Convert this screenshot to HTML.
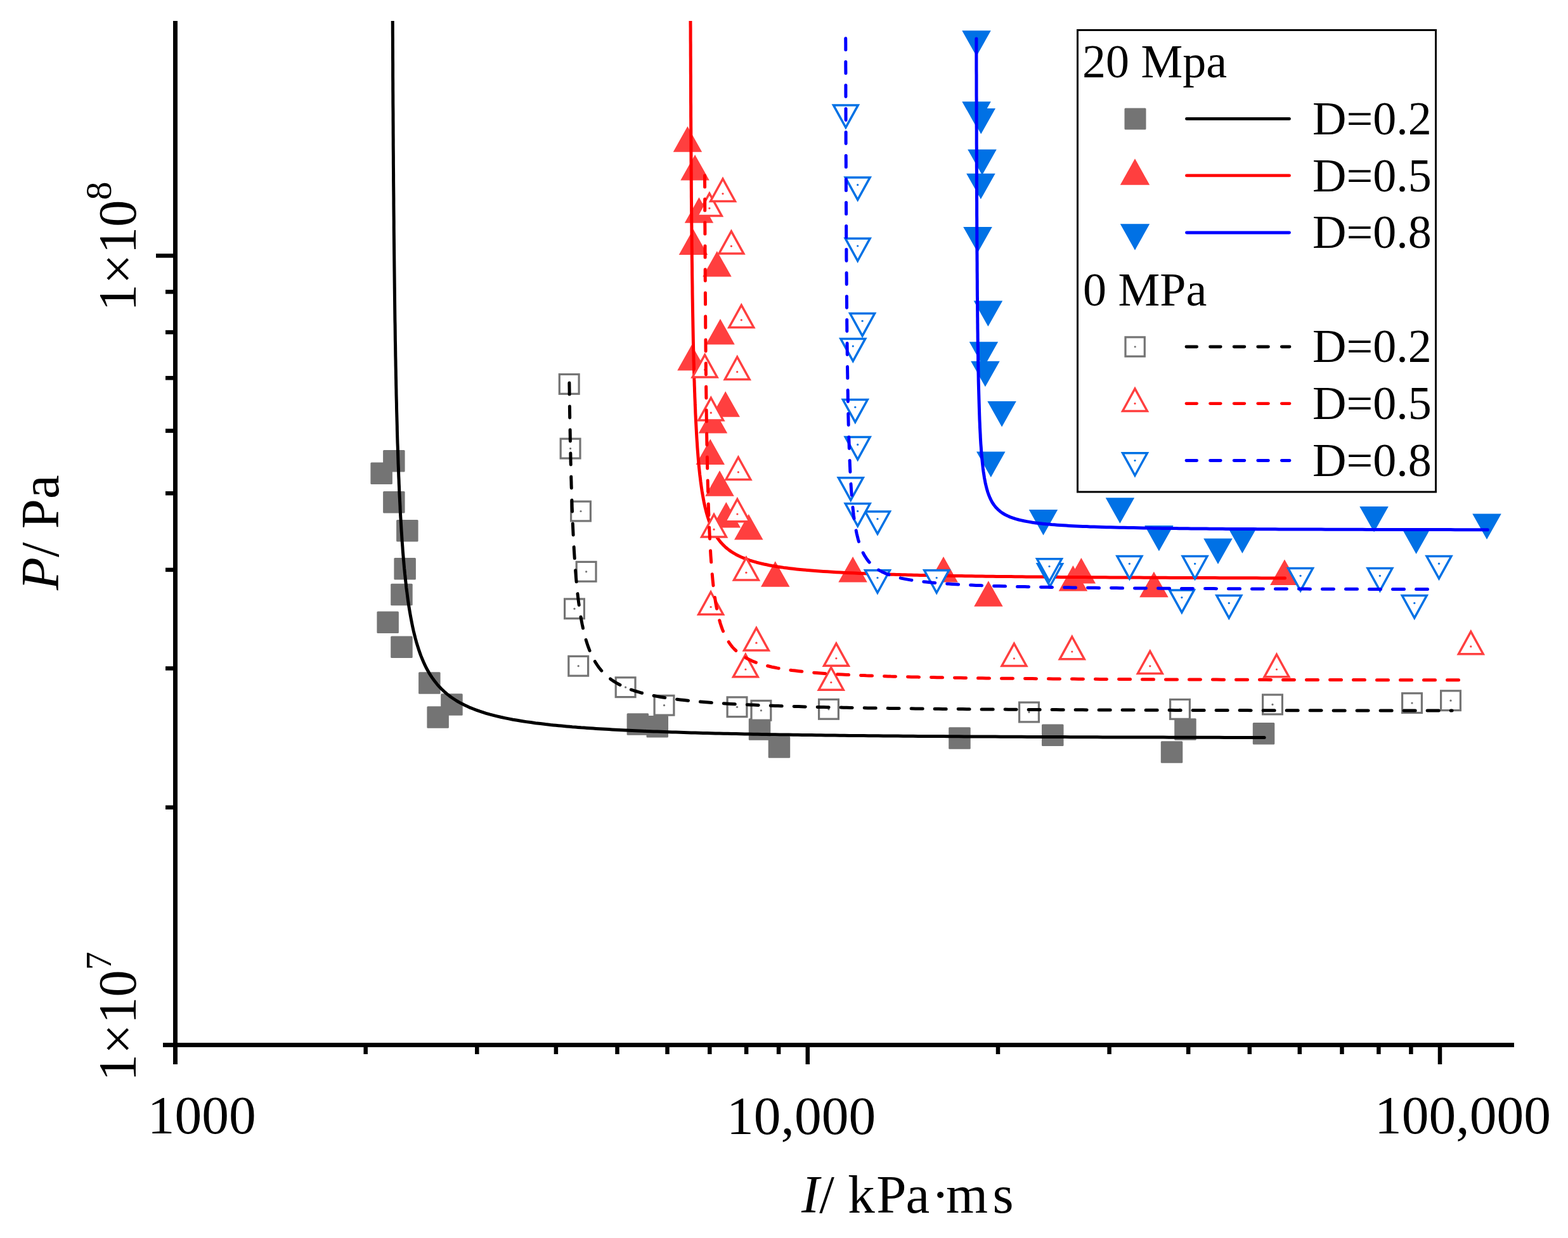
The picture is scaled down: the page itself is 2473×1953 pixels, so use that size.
<!DOCTYPE html>
<html><head><meta charset="utf-8"><title>P-I diagram</title>
<style>html,body{margin:0;padding:0;background:#fff;}svg{display:block;}</style></head>
<body>
<svg width="2473" height="1953" viewBox="0 0 2473 1953">
<rect width="2473" height="1953" fill="#fff"/>
<defs><clipPath id="pa"><rect x="0" y="33" width="2473" height="1700"/></clipPath></defs>
<g id="data" clip-path="url(#pa)">
<rect x="604.1" y="710.0" width="34.5" height="34.5" rx="1.5" fill="#747474"/>
<rect x="584.4" y="729.6" width="34.5" height="34.5" rx="1.5" fill="#747474"/>
<rect x="604.1" y="775.1" width="34.5" height="34.5" rx="1.5" fill="#747474"/>
<rect x="625.1" y="820.0" width="34.5" height="34.5" rx="1.5" fill="#747474"/>
<rect x="621.4" y="880.0" width="34.5" height="34.5" rx="1.5" fill="#747474"/>
<rect x="616.2" y="920.8" width="34.5" height="34.5" rx="1.5" fill="#747474"/>
<rect x="594.4" y="964.5" width="34.5" height="34.5" rx="1.5" fill="#747474"/>
<rect x="616.2" y="1003.6" width="34.5" height="34.5" rx="1.5" fill="#747474"/>
<rect x="660.1" y="1060.2" width="34.5" height="34.5" rx="1.5" fill="#747474"/>
<rect x="695.2" y="1094.2" width="34.5" height="34.5" rx="1.5" fill="#747474"/>
<rect x="673.4" y="1114.2" width="34.5" height="34.5" rx="1.5" fill="#747474"/>
<rect x="988.6" y="1125.2" width="34.5" height="34.5" rx="1.5" fill="#747474"/>
<rect x="1019.5" y="1129.0" width="34.5" height="34.5" rx="1.5" fill="#747474"/>
<rect x="1180.8" y="1133.2" width="34.5" height="34.5" rx="1.5" fill="#747474"/>
<rect x="1211.7" y="1161.2" width="34.5" height="34.5" rx="1.5" fill="#747474"/>
<rect x="1496.2" y="1147.2" width="34.5" height="34.5" rx="1.5" fill="#747474"/>
<rect x="1643.0" y="1142.5" width="34.5" height="34.5" rx="1.5" fill="#747474"/>
<rect x="1852.2" y="1133.2" width="34.5" height="34.5" rx="1.5" fill="#747474"/>
<rect x="1830.8" y="1169.2" width="34.5" height="34.5" rx="1.5" fill="#747474"/>
<rect x="1975.8" y="1140.0" width="34.5" height="34.5" rx="1.5" fill="#747474"/>
<polygon points="1084.4,199.3 1107.2,239.8 1061.7,239.8" fill="#ff3f3f"/>
<polygon points="1096.1,244.0 1118.8,284.5 1073.3,284.5" fill="#ff3f3f"/>
<polygon points="1102.5,311.3 1125.2,351.8 1079.8,351.8" fill="#ff3f3f"/>
<polygon points="1093.4,361.5 1116.2,402.0 1070.7,402.0" fill="#ff3f3f"/>
<polygon points="1130.9,396.0 1153.7,436.5 1108.2,436.5" fill="#ff3f3f"/>
<polygon points="1136.0,503.0 1158.8,543.5 1113.2,543.5" fill="#ff3f3f"/>
<polygon points="1090.9,544.0 1113.7,584.5 1068.2,584.5" fill="#ff3f3f"/>
<polygon points="1144.2,617.2 1167.0,657.7 1121.5,657.7" fill="#ff3f3f"/>
<polygon points="1124.4,643.0 1147.2,683.5 1101.7,683.5" fill="#ff3f3f"/>
<polygon points="1120.2,692.6 1143.0,733.1 1097.5,733.1" fill="#ff3f3f"/>
<polygon points="1135.0,742.3 1157.8,782.8 1112.2,782.8" fill="#ff3f3f"/>
<polygon points="1145.3,791.9 1168.0,832.4 1122.5,832.4" fill="#ff3f3f"/>
<polygon points="1180.8,810.9 1203.5,851.4 1158.0,851.4" fill="#ff3f3f"/>
<polygon points="1222.7,885.2 1245.5,925.7 1200.0,925.7" fill="#ff3f3f"/>
<polygon points="1345.1,877.9 1367.8,918.4 1322.3,918.4" fill="#ff3f3f"/>
<polygon points="1488.0,877.9 1510.8,918.4 1465.2,918.4" fill="#ff3f3f"/>
<polygon points="1558.9,916.3 1581.7,956.8 1536.2,956.8" fill="#ff3f3f"/>
<polygon points="1692.4,892.1 1715.2,932.6 1669.7,932.6" fill="#ff3f3f"/>
<polygon points="1705.3,879.9 1728.0,920.4 1682.5,920.4" fill="#ff3f3f"/>
<polygon points="1819.9,901.8 1842.7,942.3 1797.2,942.3" fill="#ff3f3f"/>
<polygon points="2026.0,882.5 2048.8,923.0 2003.2,923.0" fill="#ff3f3f"/>
<polygon points="1540.1,88.8 1562.8,48.3 1517.3,48.3" fill="#0071e5"/>
<polygon points="1540.1,200.7 1562.8,160.2 1517.3,160.2" fill="#0071e5"/>
<polygon points="1547.2,211.4 1570.0,170.9 1524.5,170.9" fill="#0071e5"/>
<polygon points="1549.0,276.2 1571.8,235.7 1526.2,235.7" fill="#0071e5"/>
<polygon points="1546.9,314.2 1569.7,273.7 1524.2,273.7" fill="#0071e5"/>
<polygon points="1542.0,398.5 1564.8,358.0 1519.2,358.0" fill="#0071e5"/>
<polygon points="1558.4,515.1 1581.2,474.6 1535.7,474.6" fill="#0071e5"/>
<polygon points="1551.4,579.8 1574.2,539.3 1528.7,539.3" fill="#0071e5"/>
<polygon points="1553.9,610.2 1576.7,569.7 1531.2,569.7" fill="#0071e5"/>
<polygon points="1580.1,673.4 1602.8,632.9 1557.3,632.9" fill="#0071e5"/>
<polygon points="1562.8,753.1 1585.5,712.6 1540.0,712.6" fill="#0071e5"/>
<polygon points="1645.5,844.5 1668.2,804.0 1622.8,804.0" fill="#0071e5"/>
<polygon points="1766.4,825.7 1789.2,785.2 1743.7,785.2" fill="#0071e5"/>
<polygon points="1827.9,869.4 1850.7,828.9 1805.2,828.9" fill="#0071e5"/>
<polygon points="1921.0,890.0 1943.8,849.5 1898.2,849.5" fill="#0071e5"/>
<polygon points="1959.4,873.1 1982.2,832.6 1936.7,832.6" fill="#0071e5"/>
<polygon points="2167.1,839.6 2189.8,799.1 2144.3,799.1" fill="#0071e5"/>
<polygon points="2233.6,874.0 2256.3,833.5 2210.8,833.5" fill="#0071e5"/>
<polygon points="2345.0,851.1 2367.8,810.6 2322.2,810.6" fill="#0071e5"/>
<path d="M619.2,20.0 L619.2,30.2 L619.3,40.4 L619.3,50.6 L619.4,60.7 L619.4,70.8 L619.5,80.9 L619.5,91.0 L619.6,101.0 L619.6,111.0 L619.6,120.9 L619.7,130.9 L619.7,140.8 L619.8,150.6 L619.8,160.5 L619.9,170.3 L620.0,180.0 L620.0,189.8 L620.1,199.5 L620.1,209.1 L620.2,218.7 L620.2,228.3 L620.3,237.9 L620.4,247.4 L620.4,256.9 L620.5,266.3 L620.6,275.7 L620.6,285.1 L620.7,294.4 L620.8,303.7 L620.9,313.0 L620.9,322.2 L621.0,331.3 L621.1,340.5 L621.2,349.5 L621.2,358.6 L621.3,367.6 L621.4,376.5 L621.5,385.4 L621.6,394.3 L621.7,403.1 L621.8,411.8 L621.9,420.6 L622.0,429.2 L622.1,437.8 L622.2,446.4 L622.3,454.9 L622.4,463.4 L622.5,471.8 L622.6,480.2 L622.7,488.5 L622.8,496.8 L622.9,505.0 L623.1,513.2 L623.2,521.3 L623.3,529.4 L623.4,537.4 L623.6,545.4 L623.7,553.3 L623.8,561.1 L624.0,568.9 L624.1,576.7 L624.3,584.3 L624.4,592.0 L624.6,599.5 L624.7,607.0 L624.9,614.5 L625.0,621.9 L625.2,629.2 L625.4,636.5 L625.5,643.7 L625.7,650.9 L625.9,658.0 L626.1,665.0 L626.3,672.0 L626.4,678.9 L626.6,685.8 L626.8,692.6 L627.0,699.3 L627.3,706.0 L627.5,712.6 L627.7,719.2 L627.9,725.7 L628.1,732.1 L628.4,738.5 L628.6,744.8 L628.8,751.1 L629.1,757.2 L629.3,763.4 L629.6,769.4 L629.8,775.4 L630.1,781.4 L630.4,787.2 L630.7,793.0 L631.0,798.8 L631.2,804.5 L631.5,810.1 L631.8,815.6 L632.2,821.1 L632.5,826.6 L632.8,831.9 L633.1,837.3 L633.5,842.5 L633.8,847.7 L634.1,852.8 L634.5,857.9 L634.9,862.9 L635.2,867.8 L635.6,872.7 L636.0,877.5 L636.4,882.3 L636.8,887.0 L637.2,891.6 L637.6,896.2 L638.1,900.7 L638.5,905.2 L639.0,909.6 L639.4,913.9 L639.9,918.2 L640.4,922.4 L640.8,926.6 L641.3,930.7 L641.9,934.7 L642.4,938.7 L643.4,946.6 L644.5,954.2 L645.7,961.5 L646.9,968.7 L648.2,975.7 L649.5,982.4 L650.8,988.9 L652.2,995.3 L653.7,1001.4 L655.2,1007.4 L656.8,1013.2 L658.5,1018.7 L660.2,1024.1 L662.0,1029.4 L663.8,1034.4 L665.8,1039.3 L667.8,1044.0 L669.9,1048.6 L672.0,1053.0 L674.3,1057.2 L676.6,1061.3 L679.1,1065.3 L681.6,1069.1 L684.2,1072.8 L686.9,1076.3 L689.7,1079.8 L692.6,1083.1 L695.7,1086.3 L698.8,1089.3 L702.0,1092.3 L705.4,1095.1 L708.9,1097.9 L712.5,1100.5 L716.3,1103.0 L720.1,1105.5 L724.1,1107.8 L728.3,1110.1 L732.6,1112.3 L737.0,1114.3 L741.5,1116.4 L746.3,1118.3 L751.1,1120.1 L756.2,1121.9 L761.4,1123.6 L766.7,1125.3 L772.2,1126.9 L777.9,1128.4 L783.8,1129.9 L789.8,1131.3 L796.0,1132.6 L802.4,1133.9 L809.0,1135.2 L815.7,1136.3 L822.7,1137.5 L829.8,1138.6 L837.1,1139.6 L844.6,1140.7 L852.4,1141.6 L860.3,1142.6 L864.3,1143.0 L868.4,1143.5 L872.5,1143.9 L876.6,1144.3 L880.9,1144.7 L885.1,1145.1 L889.5,1145.5 L893.8,1145.9 L898.3,1146.3 L902.7,1146.7 L907.3,1147.0 L911.8,1147.4 L916.4,1147.8 L921.1,1148.1 L925.8,1148.4 L930.6,1148.8 L935.4,1149.1 L940.3,1149.4 L945.2,1149.7 L950.2,1150.0 L955.2,1150.3 L960.3,1150.6 L965.4,1150.9 L970.6,1151.2 L975.8,1151.5 L981.1,1151.7 L986.4,1152.0 L991.8,1152.2 L997.2,1152.5 L1002.7,1152.7 L1008.2,1153.0 L1013.7,1153.2 L1019.3,1153.5 L1025.0,1153.7 L1030.7,1153.9 L1036.5,1154.1 L1042.3,1154.3 L1048.1,1154.5 L1054.0,1154.7 L1060.0,1154.9 L1065.9,1155.1 L1072.0,1155.3 L1078.1,1155.5 L1084.2,1155.7 L1090.3,1155.9 L1096.6,1156.1 L1102.8,1156.2 L1109.1,1156.4 L1115.5,1156.6 L1121.9,1156.7 L1128.3,1156.9 L1134.8,1157.0 L1141.3,1157.2 L1147.8,1157.3 L1154.4,1157.5 L1161.1,1157.6 L1167.8,1157.8 L1174.5,1157.9 L1181.3,1158.0 L1188.1,1158.2 L1194.9,1158.3 L1201.8,1158.4 L1208.7,1158.5 L1215.7,1158.7 L1222.7,1158.8 L1229.7,1158.9 L1236.8,1159.0 L1243.9,1159.1 L1251.0,1159.2 L1258.2,1159.3 L1265.4,1159.4 L1272.7,1159.5 L1280.0,1159.6 L1287.3,1159.7 L1294.6,1159.8 L1302.0,1159.9 L1309.4,1160.0 L1316.9,1160.1 L1324.4,1160.2 L1331.9,1160.3 L1339.4,1160.4 L1347.0,1160.4 L1354.6,1160.5 L1362.2,1160.6 L1369.9,1160.7 L1377.6,1160.7 L1385.3,1160.8 L1393.1,1160.9 L1400.8,1161.0 L1408.6,1161.0 L1416.5,1161.1 L1424.3,1161.2 L1432.2,1161.2 L1440.1,1161.3 L1448.1,1161.4 L1456.0,1161.4 L1464.0,1161.5 L1472.0,1161.5 L1480.1,1161.6 L1488.1,1161.6 L1496.2,1161.7 L1504.3,1161.8 L1512.4,1161.8 L1520.6,1161.9 L1528.8,1161.9 L1537.0,1162.0 L1545.2,1162.0 L1553.4,1162.0 L1561.7,1162.1 L1569.9,1162.1 L1578.2,1162.2 L1586.6,1162.2 L1594.9,1162.3 L1603.2,1162.3 L1611.6,1162.3 L1620.0,1162.4 L1628.4,1162.4 L1636.8,1162.5 L1645.3,1162.5 L1653.7,1162.5 L1662.2,1162.6 L1670.7,1162.6 L1679.2,1162.6 L1687.7,1162.7 L1696.3,1162.7 L1704.8,1162.7 L1713.4,1162.8 L1722.0,1162.8 L1730.6,1162.8 L1739.2,1162.9 L1747.8,1162.9 L1756.5,1162.9 L1765.1,1162.9 L1773.8,1163.0 L1782.5,1163.0 L1791.2,1163.0 L1799.9,1163.0 L1808.6,1163.1 L1817.3,1163.1 L1826.1,1163.1 L1834.8,1163.1 L1843.6,1163.2 L1852.3,1163.2 L1861.1,1163.2 L1869.9,1163.2 L1878.7,1163.3 L1887.6,1163.3 L1896.4,1163.3 L1905.2,1163.3 L1914.1,1163.3 L1922.9,1163.3 L1931.8,1163.4 L1940.7,1163.4 L1949.5,1163.4 L1958.4,1163.4 L1967.3,1163.4 L1976.3,1163.5 L1985.2,1163.5 L1994.1,1163.5" fill="none" stroke="#000" stroke-width="5" stroke-linecap="round" stroke-linejoin="round"/>
<path d="M1089.0,20.0 L1089.0,28.5 L1089.0,37.0 L1089.1,45.4 L1089.1,53.8 L1089.1,62.2 L1089.2,70.5 L1089.2,78.8 L1089.2,87.1 L1089.3,95.3 L1089.3,103.5 L1089.3,111.6 L1089.4,119.8 L1089.4,127.9 L1089.4,135.9 L1089.5,143.9 L1089.5,151.9 L1089.5,159.8 L1089.6,167.7 L1089.6,175.6 L1089.6,183.4 L1089.7,191.2 L1089.7,198.9 L1089.8,206.6 L1089.8,214.3 L1089.9,221.9 L1089.9,229.5 L1089.9,237.0 L1090.0,244.5 L1090.0,252.0 L1090.1,259.4 L1090.1,266.7 L1090.2,274.1 L1090.2,281.4 L1090.3,288.6 L1090.3,295.8 L1090.4,302.9 L1090.4,310.0 L1090.5,317.1 L1090.6,324.1 L1090.6,331.1 L1090.7,338.0 L1090.7,344.9 L1090.8,351.7 L1090.9,358.5 L1090.9,365.2 L1091.0,371.9 L1091.1,378.5 L1091.1,385.1 L1091.2,391.6 L1091.3,398.1 L1091.3,404.6 L1091.4,411.0 L1091.5,417.3 L1091.6,423.6 L1091.6,429.9 L1091.7,436.1 L1091.8,442.2 L1091.9,448.3 L1092.0,454.4 L1092.0,460.4 L1092.1,466.3 L1092.2,472.2 L1092.3,478.0 L1092.4,483.8 L1092.5,489.6 L1092.6,495.3 L1092.7,500.9 L1092.8,506.5 L1092.9,512.1 L1093.0,517.5 L1093.1,523.0 L1093.2,528.4 L1093.3,533.7 L1093.4,539.0 L1093.5,544.2 L1093.6,549.4 L1093.8,554.5 L1093.9,559.6 L1094.0,564.6 L1094.1,569.6 L1094.3,574.5 L1094.4,579.4 L1094.5,584.2 L1094.7,589.0 L1094.8,593.7 L1094.9,598.4 L1095.1,603.0 L1095.2,607.6 L1095.4,612.1 L1095.5,616.6 L1095.7,621.0 L1095.8,625.4 L1096.0,629.7 L1096.2,634.0 L1096.3,638.2 L1096.5,642.4 L1096.7,646.5 L1096.8,650.6 L1097.0,654.6 L1097.4,662.5 L1097.8,670.2 L1098.2,677.7 L1098.6,685.1 L1099.0,692.2 L1099.5,699.2 L1099.9,706.0 L1100.4,712.6 L1100.9,719.0 L1101.4,725.3 L1102.0,731.4 L1102.5,737.3 L1103.1,743.1 L1103.7,748.7 L1104.4,754.1 L1105.0,759.4 L1105.7,764.5 L1106.4,769.5 L1107.1,774.3 L1107.9,779.0 L1108.7,783.6 L1109.5,788.0 L1110.3,792.3 L1111.2,796.4 L1112.1,800.4 L1113.1,804.3 L1114.5,809.9 L1116.1,815.3 L1117.8,820.4 L1119.5,825.2 L1121.4,829.8 L1123.3,834.2 L1125.4,838.4 L1127.6,842.4 L1129.8,846.1 L1132.3,849.7 L1134.8,853.1 L1137.5,856.3 L1140.3,859.4 L1143.3,862.3 L1146.4,865.0 L1149.7,867.6 L1153.2,870.1 L1156.8,872.4 L1160.7,874.7 L1164.7,876.8 L1168.9,878.8 L1173.4,880.6 L1178.0,882.4 L1182.9,884.1 L1188.0,885.7 L1193.4,887.2 L1199.0,888.6 L1204.9,890.0 L1208.9,890.8 L1213.1,891.7 L1217.4,892.5 L1221.9,893.2 L1226.4,894.0 L1231.1,894.7 L1235.9,895.4 L1240.9,896.0 L1246.0,896.7 L1251.2,897.3 L1256.6,897.9 L1262.1,898.4 L1267.8,899.0 L1273.6,899.5 L1279.6,900.0 L1285.7,900.5 L1292.0,901.0 L1298.4,901.4 L1305.0,901.8 L1311.7,902.3 L1318.6,902.7 L1325.7,903.0 L1332.9,903.4 L1340.3,903.8 L1347.8,904.1 L1355.5,904.5 L1363.4,904.8 L1371.4,905.1 L1375.5,905.2 L1379.6,905.4 L1383.8,905.5 L1388.0,905.7 L1392.2,905.8 L1396.5,905.9 L1400.8,906.1 L1405.2,906.2 L1409.6,906.3 L1414.0,906.5 L1418.5,906.6 L1423.0,906.7 L1427.6,906.8 L1432.2,906.9 L1436.9,907.0 L1441.6,907.2 L1446.3,907.3 L1451.1,907.4 L1455.9,907.5 L1460.7,907.6 L1465.6,907.7 L1470.6,907.8 L1475.5,907.9 L1480.5,908.0 L1485.6,908.1 L1490.7,908.2 L1495.8,908.3 L1501.0,908.4 L1506.2,908.4 L1511.4,908.5 L1516.7,908.6 L1522.1,908.7 L1527.4,908.8 L1532.8,908.8 L1538.3,908.9 L1543.7,909.0 L1549.2,909.1 L1554.8,909.2 L1560.4,909.2 L1566.0,909.3 L1571.7,909.4 L1577.4,909.4 L1583.1,909.5 L1588.9,909.6 L1594.7,909.6 L1600.5,909.7 L1606.4,909.8 L1612.3,909.8 L1618.2,909.9 L1624.2,909.9 L1630.2,910.0 L1636.3,910.0 L1642.3,910.1 L1648.4,910.1 L1654.6,910.2 L1660.8,910.3 L1667.0,910.3 L1673.2,910.4 L1679.5,910.4 L1685.8,910.5 L1692.1,910.5 L1698.5,910.5 L1704.9,910.6 L1711.3,910.6 L1717.7,910.7 L1724.2,910.7 L1730.7,910.8 L1737.3,910.8 L1743.8,910.8 L1750.4,910.9 L1757.1,910.9 L1763.7,911.0 L1770.4,911.0 L1777.1,911.0 L1783.8,911.1 L1790.6,911.1 L1797.4,911.1 L1804.2,911.2 L1811.0,911.2 L1817.9,911.2 L1824.8,911.3 L1831.7,911.3 L1838.6,911.3 L1845.6,911.4 L1852.6,911.4 L1859.6,911.4 L1866.6,911.4 L1873.7,911.5 L1880.7,911.5 L1887.8,911.5 L1895.0,911.6 L1902.1,911.6 L1909.3,911.6 L1916.4,911.6 L1923.6,911.7 L1930.9,911.7 L1938.1,911.7 L1945.4,911.7 L1952.7,911.7 L1960.0,911.8 L1967.3,911.8 L1974.6,911.8 L1982.0,911.8 L1989.4,911.9 L1996.7,911.9 L2004.2,911.9 L2011.6,911.9 L2019.0,911.9 L2026.5,911.9" fill="none" stroke="#f00" stroke-width="5" stroke-linecap="round" stroke-linejoin="round"/>
<path d="M1539.9,61.1 L1539.9,69.4 L1539.9,77.7 L1539.9,86.0 L1539.9,94.2 L1539.9,102.4 L1539.9,110.5 L1540.0,118.6 L1540.0,126.6 L1540.0,134.6 L1540.0,142.6 L1540.0,150.5 L1540.1,158.4 L1540.1,166.2 L1540.1,174.0 L1540.1,181.7 L1540.1,189.4 L1540.1,197.0 L1540.2,204.6 L1540.2,212.1 L1540.2,219.6 L1540.2,227.1 L1540.3,234.5 L1540.3,241.8 L1540.3,249.1 L1540.3,256.4 L1540.3,263.6 L1540.4,270.7 L1540.4,277.8 L1540.4,284.8 L1540.4,291.8 L1540.5,298.8 L1540.5,305.7 L1540.5,312.5 L1540.6,319.3 L1540.6,326.0 L1540.6,332.7 L1540.6,339.3 L1540.7,345.9 L1540.7,352.4 L1540.7,358.9 L1540.8,365.3 L1540.8,371.6 L1540.8,377.9 L1540.9,384.2 L1540.9,390.4 L1540.9,396.5 L1541.0,402.6 L1541.0,408.6 L1541.1,414.6 L1541.1,420.5 L1541.1,426.4 L1541.2,432.2 L1541.2,437.9 L1541.3,443.6 L1541.3,449.3 L1541.3,454.8 L1541.4,460.4 L1541.4,465.8 L1541.5,471.3 L1541.5,476.6 L1541.6,481.9 L1541.6,487.2 L1541.7,492.4 L1541.7,497.5 L1541.8,502.6 L1541.8,507.6 L1541.9,512.6 L1541.9,517.5 L1542.0,522.4 L1542.1,527.2 L1542.1,531.9 L1542.2,536.6 L1542.2,541.3 L1542.3,545.8 L1542.4,550.4 L1542.4,554.9 L1542.5,559.3 L1542.6,563.7 L1542.6,568.0 L1542.7,572.2 L1542.8,576.5 L1542.8,580.6 L1542.9,584.7 L1543.0,588.8 L1543.1,592.8 L1543.2,600.6 L1543.4,608.3 L1543.6,615.8 L1543.8,623.0 L1544.0,630.1 L1544.2,636.9 L1544.4,643.6 L1544.6,650.1 L1544.8,656.4 L1545.0,662.5 L1545.3,668.5 L1545.5,674.2 L1545.8,679.8 L1546.1,685.3 L1546.3,690.5 L1546.6,695.6 L1546.9,700.6 L1547.3,705.4 L1547.6,710.0 L1547.9,714.5 L1548.3,718.9 L1548.7,723.1 L1549.1,727.2 L1549.7,733.0 L1550.3,738.6 L1551.0,743.9 L1551.8,749.0 L1552.5,753.7 L1553.4,758.3 L1554.2,762.6 L1555.2,766.7 L1556.5,771.8 L1557.9,776.5 L1559.5,781.0 L1561.2,785.1 L1563.0,788.9 L1564.9,792.5 L1567.6,796.5 L1570.5,800.2 L1573.8,803.6 L1577.3,806.7 L1581.2,809.5 L1585.4,812.0 L1589.1,813.8 L1593.1,815.6 L1597.4,817.1 L1602.0,818.6 L1606.9,820.0 L1610.8,820.9 L1614.9,821.8 L1619.3,822.6 L1623.8,823.4 L1628.6,824.2 L1633.7,824.9 L1639.0,825.6 L1644.6,826.2 L1650.4,826.8 L1654.4,827.1 L1658.6,827.5 L1662.9,827.8 L1667.4,828.2 L1671.9,828.5 L1676.6,828.8 L1681.5,829.1 L1686.5,829.4 L1691.6,829.7 L1696.9,829.9 L1702.4,830.2 L1708.0,830.4 L1713.7,830.6 L1719.6,830.9 L1725.7,831.1 L1731.9,831.3 L1738.3,831.5 L1744.9,831.7 L1751.6,831.8 L1758.6,832.0 L1765.6,832.2 L1772.9,832.3 L1780.3,832.5 L1787.9,832.6 L1795.7,832.8 L1803.6,832.9 L1807.6,833.0 L1811.7,833.1 L1815.9,833.1 L1820.0,833.2 L1824.2,833.2 L1828.5,833.3 L1832.8,833.4 L1837.2,833.4 L1841.6,833.5 L1846.0,833.5 L1850.5,833.6 L1855.0,833.6 L1859.6,833.7 L1864.2,833.7 L1868.9,833.8 L1873.6,833.8 L1878.3,833.9 L1883.1,833.9 L1888.0,834.0 L1892.9,834.0 L1897.8,834.1 L1902.8,834.1 L1907.8,834.2 L1912.8,834.2 L1917.9,834.2 L1923.1,834.3 L1928.3,834.3 L1933.5,834.4 L1938.8,834.4 L1944.1,834.4 L1949.5,834.5 L1954.9,834.5 L1960.3,834.5 L1965.8,834.6 L1971.3,834.6 L1976.9,834.6 L1982.5,834.7 L1988.2,834.7 L1993.9,834.7 L1999.6,834.8 L2005.4,834.8 L2011.2,834.8 L2017.1,834.9 L2023.0,834.9 L2028.9,834.9 L2034.9,834.9 L2040.9,835.0 L2046.9,835.0 L2053.0,835.0 L2059.1,835.0 L2065.3,835.1 L2071.5,835.1 L2077.7,835.1 L2084.0,835.1 L2090.3,835.2 L2096.7,835.2 L2103.1,835.2 L2109.5,835.2 L2115.9,835.2 L2122.4,835.3 L2128.9,835.3 L2135.5,835.3 L2142.1,835.3 L2148.7,835.3 L2155.4,835.4 L2162.1,835.4 L2168.8,835.4 L2175.5,835.4 L2182.3,835.4 L2189.1,835.4 L2196.0,835.5 L2202.9,835.5 L2209.8,835.5 L2216.7,835.5 L2223.7,835.5 L2230.7,835.5 L2237.7,835.5 L2244.7,835.6 L2251.8,835.6 L2258.9,835.6 L2266.1,835.6 L2273.2,835.6 L2280.4,835.6 L2287.6,835.6 L2294.9,835.7 L2302.2,835.7 L2309.5,835.7 L2316.8,835.7 L2324.1,835.7 L2331.5,835.7 L2338.9,835.7 L2346.3,835.7" fill="none" stroke="#00f" stroke-width="5" stroke-linecap="round" stroke-linejoin="round"/>
<rect x="882.3" y="590.5" width="30.8" height="30.8" fill="#fff" stroke="#747474" stroke-width="3.2"/><circle cx="897.7" cy="605.9" r="1.6" fill="#747474"/>
<rect x="884.2" y="692.2" width="30.8" height="30.8" fill="#fff" stroke="#747474" stroke-width="3.2"/><circle cx="899.6" cy="707.6" r="1.6" fill="#747474"/>
<rect x="900.6" y="791.1" width="30.8" height="30.8" fill="#fff" stroke="#747474" stroke-width="3.2"/><circle cx="916.0" cy="806.5" r="1.6" fill="#747474"/>
<rect x="909.2" y="886.4" width="30.8" height="30.8" fill="#fff" stroke="#747474" stroke-width="3.2"/><circle cx="924.6" cy="901.8" r="1.6" fill="#747474"/>
<rect x="890.6" y="944.9" width="30.8" height="30.8" fill="#fff" stroke="#747474" stroke-width="3.2"/><circle cx="906.0" cy="960.3" r="1.6" fill="#747474"/>
<rect x="896.8" y="1035.3" width="30.8" height="30.8" fill="#fff" stroke="#747474" stroke-width="3.2"/><circle cx="912.2" cy="1050.7" r="1.6" fill="#747474"/>
<rect x="971.2" y="1068.8" width="30.8" height="30.8" fill="#fff" stroke="#747474" stroke-width="3.2"/><circle cx="986.6" cy="1084.2" r="1.6" fill="#747474"/>
<rect x="1032.1" y="1097.3" width="30.8" height="30.8" fill="#fff" stroke="#747474" stroke-width="3.2"/><circle cx="1047.5" cy="1112.7" r="1.6" fill="#747474"/>
<rect x="1147.1" y="1099.9" width="30.8" height="30.8" fill="#fff" stroke="#747474" stroke-width="3.2"/><circle cx="1162.5" cy="1115.3" r="1.6" fill="#747474"/>
<rect x="1185.0" y="1105.4" width="30.8" height="30.8" fill="#fff" stroke="#747474" stroke-width="3.2"/><circle cx="1200.4" cy="1120.8" r="1.6" fill="#747474"/>
<rect x="1291.6" y="1103.4" width="30.8" height="30.8" fill="#fff" stroke="#747474" stroke-width="3.2"/><circle cx="1307.0" cy="1118.8" r="1.6" fill="#747474"/>
<rect x="1607.6" y="1108.1" width="30.8" height="30.8" fill="#fff" stroke="#747474" stroke-width="3.2"/><circle cx="1623.0" cy="1123.5" r="1.6" fill="#747474"/>
<rect x="1845.6" y="1103.5" width="30.8" height="30.8" fill="#fff" stroke="#747474" stroke-width="3.2"/><circle cx="1861.0" cy="1118.9" r="1.6" fill="#747474"/>
<rect x="1991.6" y="1096.0" width="30.8" height="30.8" fill="#fff" stroke="#747474" stroke-width="3.2"/><circle cx="2007.0" cy="1111.4" r="1.6" fill="#747474"/>
<rect x="2211.6" y="1093.7" width="30.8" height="30.8" fill="#fff" stroke="#747474" stroke-width="3.2"/><circle cx="2227.0" cy="1109.1" r="1.6" fill="#747474"/>
<rect x="2272.6" y="1089.8" width="30.8" height="30.8" fill="#fff" stroke="#747474" stroke-width="3.2"/><circle cx="2288.0" cy="1105.2" r="1.6" fill="#747474"/>
<polygon points="1118.9,305.1 1138.3,340.4 1099.5,340.4" fill="#fff" stroke="#ff3f3f" stroke-width="3.5" stroke-linejoin="miter"/><circle cx="1118.9" cy="328.6" r="1.6" fill="#ff3f3f"/>
<polygon points="1140.0,282.1 1159.4,317.4 1120.6,317.4" fill="#fff" stroke="#ff3f3f" stroke-width="3.5" stroke-linejoin="miter"/><circle cx="1140.0" cy="305.6" r="1.6" fill="#ff3f3f"/>
<polygon points="1153.4,364.8 1172.8,400.1 1134.0,400.1" fill="#fff" stroke="#ff3f3f" stroke-width="3.5" stroke-linejoin="miter"/><circle cx="1153.4" cy="388.3" r="1.6" fill="#ff3f3f"/>
<polygon points="1169.3,481.3 1188.7,516.5 1149.9,516.5" fill="#fff" stroke="#ff3f3f" stroke-width="3.5" stroke-linejoin="miter"/><circle cx="1169.3" cy="504.8" r="1.6" fill="#ff3f3f"/>
<polygon points="1111.6,559.8 1131.0,595.0 1092.2,595.0" fill="#fff" stroke="#ff3f3f" stroke-width="3.5" stroke-linejoin="miter"/><circle cx="1111.6" cy="583.3" r="1.6" fill="#ff3f3f"/>
<polygon points="1162.7,563.2 1182.1,598.5 1143.3,598.5" fill="#fff" stroke="#ff3f3f" stroke-width="3.5" stroke-linejoin="miter"/><circle cx="1162.7" cy="586.7" r="1.6" fill="#ff3f3f"/>
<polygon points="1121.3,627.7 1140.7,663.0 1101.9,663.0" fill="#fff" stroke="#ff3f3f" stroke-width="3.5" stroke-linejoin="miter"/><circle cx="1121.3" cy="651.2" r="1.6" fill="#ff3f3f"/>
<polygon points="1164.4,721.3 1183.8,756.5 1145.0,756.5" fill="#fff" stroke="#ff3f3f" stroke-width="3.5" stroke-linejoin="miter"/><circle cx="1164.4" cy="744.8" r="1.6" fill="#ff3f3f"/>
<polygon points="1162.9,787.5 1182.3,822.8 1143.5,822.8" fill="#fff" stroke="#ff3f3f" stroke-width="3.5" stroke-linejoin="miter"/><circle cx="1162.9" cy="811.0" r="1.6" fill="#ff3f3f"/>
<polygon points="1126.0,811.7 1145.4,847.0 1106.6,847.0" fill="#fff" stroke="#ff3f3f" stroke-width="3.5" stroke-linejoin="miter"/><circle cx="1126.0" cy="835.2" r="1.6" fill="#ff3f3f"/>
<polygon points="1176.9,879.8 1196.3,915.0 1157.5,915.0" fill="#fff" stroke="#ff3f3f" stroke-width="3.5" stroke-linejoin="miter"/><circle cx="1176.9" cy="903.3" r="1.6" fill="#ff3f3f"/>
<polygon points="1121.1,934.0 1140.5,969.2 1101.7,969.2" fill="#fff" stroke="#ff3f3f" stroke-width="3.5" stroke-linejoin="miter"/><circle cx="1121.1" cy="957.5" r="1.6" fill="#ff3f3f"/>
<polygon points="1192.9,990.7 1212.3,1026.0 1173.5,1026.0" fill="#fff" stroke="#ff3f3f" stroke-width="3.5" stroke-linejoin="miter"/><circle cx="1192.9" cy="1014.2" r="1.6" fill="#ff3f3f"/>
<polygon points="1175.9,1032.5 1195.3,1067.8 1156.5,1067.8" fill="#fff" stroke="#ff3f3f" stroke-width="3.5" stroke-linejoin="miter"/><circle cx="1175.9" cy="1056.0" r="1.6" fill="#ff3f3f"/>
<polygon points="1318.9,1015.1 1338.3,1050.3 1299.5,1050.3" fill="#fff" stroke="#ff3f3f" stroke-width="3.5" stroke-linejoin="miter"/><circle cx="1318.9" cy="1038.6" r="1.6" fill="#ff3f3f"/>
<polygon points="1310.8,1053.0 1330.2,1088.2 1291.4,1088.2" fill="#fff" stroke="#ff3f3f" stroke-width="3.5" stroke-linejoin="miter"/><circle cx="1310.8" cy="1076.5" r="1.6" fill="#ff3f3f"/>
<polygon points="1599.4,1015.3 1618.8,1050.5 1580.0,1050.5" fill="#fff" stroke="#ff3f3f" stroke-width="3.5" stroke-linejoin="miter"/><circle cx="1599.4" cy="1038.8" r="1.6" fill="#ff3f3f"/>
<polygon points="1690.8,1004.5 1710.2,1039.8 1671.4,1039.8" fill="#fff" stroke="#ff3f3f" stroke-width="3.5" stroke-linejoin="miter"/><circle cx="1690.8" cy="1028.0" r="1.6" fill="#ff3f3f"/>
<polygon points="1813.8,1027.3 1833.2,1062.5 1794.4,1062.5" fill="#fff" stroke="#ff3f3f" stroke-width="3.5" stroke-linejoin="miter"/><circle cx="1813.8" cy="1050.8" r="1.6" fill="#ff3f3f"/>
<polygon points="2013.5,1032.5 2032.9,1067.8 1994.1,1067.8" fill="#fff" stroke="#ff3f3f" stroke-width="3.5" stroke-linejoin="miter"/><circle cx="2013.5" cy="1056.0" r="1.6" fill="#ff3f3f"/>
<polygon points="2319.8,996.4 2339.2,1031.7 2300.4,1031.7" fill="#fff" stroke="#ff3f3f" stroke-width="3.5" stroke-linejoin="miter"/><circle cx="2319.8" cy="1019.9" r="1.6" fill="#ff3f3f"/>
<polygon points="1333.9,201.2 1353.3,165.9 1314.5,165.9" fill="#fff" stroke="#0071e5" stroke-width="3.5" stroke-linejoin="miter"/><circle cx="1333.9" cy="177.7" r="1.6" fill="#0071e5"/>
<polygon points="1352.7,315.2 1372.1,279.9 1333.3,279.9" fill="#fff" stroke="#0071e5" stroke-width="3.5" stroke-linejoin="miter"/><circle cx="1352.7" cy="291.7" r="1.6" fill="#0071e5"/>
<polygon points="1352.7,411.5 1372.1,376.2 1333.3,376.2" fill="#fff" stroke="#0071e5" stroke-width="3.5" stroke-linejoin="miter"/><circle cx="1352.7" cy="388.0" r="1.6" fill="#0071e5"/>
<polygon points="1360.1,529.8 1379.5,494.6 1340.7,494.6" fill="#fff" stroke="#0071e5" stroke-width="3.5" stroke-linejoin="miter"/><circle cx="1360.1" cy="506.3" r="1.6" fill="#0071e5"/>
<polygon points="1345.3,569.6 1364.7,534.4 1325.9,534.4" fill="#fff" stroke="#0071e5" stroke-width="3.5" stroke-linejoin="miter"/><circle cx="1345.3" cy="546.1" r="1.6" fill="#0071e5"/>
<polygon points="1348.8,665.8 1368.2,630.5 1329.4,630.5" fill="#fff" stroke="#0071e5" stroke-width="3.5" stroke-linejoin="miter"/><circle cx="1348.8" cy="642.3" r="1.6" fill="#0071e5"/>
<polygon points="1352.7,724.9 1372.1,689.6 1333.3,689.6" fill="#fff" stroke="#0071e5" stroke-width="3.5" stroke-linejoin="miter"/><circle cx="1352.7" cy="701.4" r="1.6" fill="#0071e5"/>
<polygon points="1341.8,789.0 1361.2,753.8 1322.4,753.8" fill="#fff" stroke="#0071e5" stroke-width="3.5" stroke-linejoin="miter"/><circle cx="1341.8" cy="765.5" r="1.6" fill="#0071e5"/>
<polygon points="1384.0,842.2 1403.4,807.0 1364.6,807.0" fill="#fff" stroke="#0071e5" stroke-width="3.5" stroke-linejoin="miter"/><circle cx="1384.0" cy="818.7" r="1.6" fill="#0071e5"/>
<polygon points="1352.7,829.9 1372.1,794.6 1333.3,794.6" fill="#fff" stroke="#0071e5" stroke-width="3.5" stroke-linejoin="miter"/><circle cx="1352.7" cy="806.4" r="1.6" fill="#0071e5"/>
<polygon points="1384.0,935.0 1403.4,899.8 1364.6,899.8" fill="#fff" stroke="#0071e5" stroke-width="3.5" stroke-linejoin="miter"/><circle cx="1384.0" cy="911.5" r="1.6" fill="#0071e5"/>
<polygon points="1477.2,935.0 1496.6,899.8 1457.8,899.8" fill="#fff" stroke="#0071e5" stroke-width="3.5" stroke-linejoin="miter"/><circle cx="1477.2" cy="911.5" r="1.6" fill="#0071e5"/>
<polygon points="1656.0,925.0 1675.4,889.8 1636.6,889.8" fill="#fff" stroke="#0071e5" stroke-width="3.5" stroke-linejoin="miter"/><circle cx="1656.0" cy="901.5" r="1.6" fill="#0071e5"/>
<polygon points="1655.0,917.0 1674.4,881.8 1635.6,881.8" fill="#fff" stroke="#0071e5" stroke-width="3.5" stroke-linejoin="miter"/><circle cx="1655.0" cy="893.5" r="1.6" fill="#0071e5"/>
<polygon points="1781.4,912.8 1800.8,877.5 1762.0,877.5" fill="#fff" stroke="#0071e5" stroke-width="3.5" stroke-linejoin="miter"/><circle cx="1781.4" cy="889.3" r="1.6" fill="#0071e5"/>
<polygon points="1863.9,966.1 1883.3,930.9 1844.5,930.9" fill="#fff" stroke="#0071e5" stroke-width="3.5" stroke-linejoin="miter"/><circle cx="1863.9" cy="942.6" r="1.6" fill="#0071e5"/>
<polygon points="1884.6,912.8 1904.0,877.5 1865.2,877.5" fill="#fff" stroke="#0071e5" stroke-width="3.5" stroke-linejoin="miter"/><circle cx="1884.6" cy="889.3" r="1.6" fill="#0071e5"/>
<polygon points="1938.3,974.9 1957.7,939.6 1918.9,939.6" fill="#fff" stroke="#0071e5" stroke-width="3.5" stroke-linejoin="miter"/><circle cx="1938.3" cy="951.4" r="1.6" fill="#0071e5"/>
<polygon points="2051.1,931.8 2070.5,896.5 2031.7,896.5" fill="#fff" stroke="#0071e5" stroke-width="3.5" stroke-linejoin="miter"/><circle cx="2051.1" cy="908.3" r="1.6" fill="#0071e5"/>
<polygon points="2176.4,931.8 2195.8,896.5 2157.0,896.5" fill="#fff" stroke="#0071e5" stroke-width="3.5" stroke-linejoin="miter"/><circle cx="2176.4" cy="908.3" r="1.6" fill="#0071e5"/>
<polygon points="2230.8,974.9 2250.2,939.6 2211.4,939.6" fill="#fff" stroke="#0071e5" stroke-width="3.5" stroke-linejoin="miter"/><circle cx="2230.8" cy="951.4" r="1.6" fill="#0071e5"/>
<polygon points="2269.5,912.7 2288.9,877.5 2250.1,877.5" fill="#fff" stroke="#0071e5" stroke-width="3.5" stroke-linejoin="miter"/><circle cx="2269.5" cy="889.2" r="1.6" fill="#0071e5"/>
<path d="M897.9,604.0 L898.0,610.4 L898.1,616.8 L898.1,623.1 L898.2,629.4 L898.3,635.6 L898.4,641.8 L898.5,647.9 L898.6,654.0 L898.7,660.0 L898.8,666.0 L898.9,671.9 L899.1,677.8 L899.2,683.6 L899.3,689.4 L899.4,695.1 L899.5,700.8 L899.6,706.4 L899.8,712.0 L899.9,717.5 L900.0,723.0 L900.1,728.4 L900.3,733.8 L900.4,739.1 L900.5,744.4 L900.7,749.6 L900.8,754.8 L901.0,759.9 L901.1,765.0 L901.3,770.0 L901.4,775.0 L901.6,779.9 L901.7,784.7 L901.9,789.6 L902.1,794.3 L902.2,799.1 L902.4,803.7 L902.6,808.3 L902.8,812.9 L902.9,817.4 L903.1,821.9 L903.3,826.3 L903.5,830.7 L903.7,835.0 L903.9,839.3 L904.1,843.5 L904.3,847.7 L904.5,851.8 L904.8,855.9 L905.0,859.9 L905.4,867.9 L905.9,875.6 L906.4,883.1 L906.9,890.5 L907.4,897.7 L908.0,904.7 L908.5,911.5 L909.1,918.1 L909.7,924.6 L910.4,930.9 L911.0,937.0 L911.7,943.0 L912.4,948.8 L913.2,954.4 L913.9,959.9 L914.7,965.2 L915.5,970.4 L916.4,975.4 L917.3,980.3 L918.2,985.0 L919.2,989.6 L920.1,994.1 L921.2,998.4 L922.2,1002.6 L923.3,1006.6 L924.5,1010.6 L926.3,1016.2 L928.2,1021.7 L930.2,1026.8 L932.3,1031.7 L934.5,1036.4 L936.8,1040.9 L939.3,1045.1 L941.9,1049.1 L944.6,1053.0 L947.5,1056.6 L950.5,1060.1 L953.7,1063.3 L957.1,1066.5 L960.6,1069.4 L964.3,1072.2 L968.2,1074.9 L972.3,1077.4 L976.6,1079.8 L981.1,1082.0 L985.8,1084.2 L990.7,1086.2 L995.9,1088.2 L1001.3,1090.0 L1007.0,1091.7 L1010.9,1092.8 L1014.9,1093.9 L1019.1,1094.9 L1023.4,1095.9 L1027.8,1096.8 L1032.3,1097.7 L1037.0,1098.6 L1041.8,1099.5 L1046.7,1100.3 L1051.8,1101.1 L1057.0,1101.8 L1062.3,1102.6 L1067.8,1103.3 L1073.4,1103.9 L1079.2,1104.6 L1085.1,1105.2 L1091.2,1105.8 L1097.4,1106.4 L1103.7,1107.0 L1110.3,1107.5 L1116.9,1108.1 L1123.8,1108.6 L1130.8,1109.0 L1137.9,1109.5 L1145.2,1110.0 L1152.7,1110.4 L1160.3,1110.8 L1168.1,1111.2 L1176.0,1111.6 L1180.1,1111.8 L1184.1,1112.0 L1188.2,1112.1 L1192.4,1112.3 L1196.6,1112.5 L1200.8,1112.7 L1205.1,1112.8 L1209.4,1113.0 L1213.8,1113.2 L1218.2,1113.3 L1222.6,1113.5 L1227.1,1113.6 L1231.6,1113.8 L1236.2,1113.9 L1240.8,1114.1 L1245.4,1114.2 L1250.1,1114.3 L1254.8,1114.5 L1259.6,1114.6 L1264.4,1114.7 L1269.2,1114.9 L1274.1,1115.0 L1279.0,1115.1 L1283.9,1115.2 L1288.9,1115.4 L1294.0,1115.5 L1299.0,1115.6 L1304.2,1115.7 L1309.3,1115.8 L1314.5,1115.9 L1319.7,1116.0 L1325.0,1116.1 L1330.3,1116.2 L1335.6,1116.3 L1341.0,1116.4 L1346.4,1116.5 L1351.9,1116.6 L1357.3,1116.7 L1362.9,1116.8 L1368.4,1116.9 L1374.0,1117.0 L1379.6,1117.1 L1385.3,1117.1 L1391.0,1117.2 L1396.7,1117.3 L1402.5,1117.4 L1408.3,1117.5 L1414.2,1117.5 L1420.0,1117.6 L1425.9,1117.7 L1431.9,1117.8 L1437.9,1117.8 L1443.9,1117.9 L1449.9,1118.0 L1456.0,1118.0 L1462.1,1118.1 L1468.2,1118.2 L1474.4,1118.2 L1480.6,1118.3 L1486.8,1118.4 L1493.1,1118.4 L1499.4,1118.5 L1505.7,1118.5 L1512.0,1118.6 L1518.4,1118.6 L1524.8,1118.7 L1531.3,1118.8 L1537.7,1118.8 L1544.2,1118.9 L1550.8,1118.9 L1557.3,1119.0 L1563.9,1119.0 L1570.5,1119.0 L1577.1,1119.1 L1583.8,1119.1 L1590.5,1119.2 L1597.2,1119.2 L1603.9,1119.3 L1610.7,1119.3 L1617.5,1119.4 L1624.3,1119.4 L1631.1,1119.4 L1638.0,1119.5 L1644.9,1119.5 L1651.8,1119.6 L1658.7,1119.6 L1665.6,1119.6 L1672.6,1119.7 L1679.6,1119.7 L1686.6,1119.7 L1693.7,1119.8 L1700.7,1119.8 L1707.8,1119.8 L1714.9,1119.9 L1722.1,1119.9 L1729.2,1119.9 L1736.4,1119.9 L1743.6,1120.0 L1750.8,1120.0 L1758.0,1120.0 L1765.2,1120.1 L1772.5,1120.1 L1779.8,1120.1 L1787.1,1120.1 L1794.4,1120.2 L1801.7,1120.2 L1809.1,1120.2 L1816.5,1120.2 L1823.8,1120.3 L1831.2,1120.3 L1838.7,1120.3 L1846.1,1120.3 L1853.6,1120.4 L1861.0,1120.4 L1868.5,1120.4 L1876.0,1120.4 L1883.5,1120.4 L1891.0,1120.5 L1898.6,1120.5 L1906.1,1120.5 L1913.7,1120.5 L1921.3,1120.5 L1928.9,1120.6 L1936.5,1120.6 L1944.1,1120.6 L1951.8,1120.6 L1959.4,1120.6 L1967.1,1120.6 L1974.8,1120.7 L1982.5,1120.7 L1990.2,1120.7 L1997.9,1120.7 L2005.6,1120.7 L2013.3,1120.7 L2021.1,1120.7 L2028.8,1120.8 L2036.6,1120.8 L2044.4,1120.8 L2052.2,1120.8 L2060.0,1120.8 L2067.8,1120.8 L2075.6,1120.8 L2083.4,1120.8 L2091.3,1120.9 L2099.1,1120.9 L2107.0,1120.9 L2114.9,1120.9 L2122.7,1120.9 L2130.6,1120.9 L2138.5,1120.9 L2146.4,1120.9 L2154.3,1120.9 L2162.2,1121.0 L2170.2,1121.0 L2178.1,1121.0 L2186.1,1121.0 L2194.0,1121.0 L2202.0,1121.0 L2209.9,1121.0 L2217.9,1121.0 L2225.9,1121.0 L2233.9,1121.0 L2241.9,1121.0 L2249.9,1121.1 L2257.9,1121.1 L2265.9,1121.1 L2273.9,1121.1 L2282.0,1121.1 L2290.0,1121.1" fill="none" stroke="#000" stroke-width="5" stroke-linecap="round" stroke-linejoin="round" stroke-dasharray="18 19"/>
<path d="M1111.5,277.0 L1111.5,285.7 L1111.6,294.4 L1111.6,303.1 L1111.6,311.7 L1111.7,320.3 L1111.7,328.8 L1111.7,337.3 L1111.8,345.7 L1111.8,354.1 L1111.9,362.5 L1111.9,370.8 L1111.9,379.0 L1112.0,387.2 L1112.0,395.4 L1112.1,403.5 L1112.1,411.5 L1112.1,419.5 L1112.2,427.5 L1112.2,435.4 L1112.3,443.2 L1112.3,451.0 L1112.4,458.8 L1112.4,466.5 L1112.5,474.1 L1112.5,481.7 L1112.6,489.2 L1112.6,496.7 L1112.7,504.2 L1112.7,511.5 L1112.8,518.9 L1112.8,526.1 L1112.9,533.3 L1113.0,540.5 L1113.0,547.6 L1113.1,554.6 L1113.1,561.6 L1113.2,568.5 L1113.3,575.4 L1113.3,582.2 L1113.4,589.0 L1113.5,595.7 L1113.6,602.3 L1113.6,608.9 L1113.7,615.4 L1113.8,621.9 L1113.9,628.3 L1113.9,634.7 L1114.0,641.0 L1114.1,647.2 L1114.2,653.4 L1114.3,659.5 L1114.4,665.5 L1114.5,671.5 L1114.5,677.4 L1114.6,683.3 L1114.7,689.1 L1114.8,694.9 L1114.9,700.6 L1115.0,706.2 L1115.1,711.8 L1115.3,717.3 L1115.4,722.8 L1115.5,728.2 L1115.6,733.5 L1115.7,738.8 L1115.8,744.0 L1115.9,749.1 L1116.1,754.2 L1116.2,759.3 L1116.3,764.3 L1116.5,769.2 L1116.6,774.0 L1116.7,778.8 L1116.9,783.6 L1117.0,788.3 L1117.2,792.9 L1117.3,797.5 L1117.5,802.0 L1117.6,806.5 L1117.8,810.9 L1117.9,815.2 L1118.1,819.5 L1118.3,823.7 L1118.4,827.9 L1118.6,832.0 L1118.8,836.1 L1119.0,840.1 L1119.4,848.0 L1119.8,855.6 L1120.2,863.0 L1120.6,870.3 L1121.0,877.3 L1121.5,884.1 L1122.0,890.7 L1122.5,897.1 L1123.0,903.3 L1123.6,909.4 L1124.1,915.2 L1124.7,920.9 L1125.3,926.4 L1126.0,931.7 L1126.7,936.9 L1127.4,941.9 L1128.1,946.7 L1128.8,951.4 L1129.6,955.9 L1130.5,960.2 L1131.3,964.5 L1132.2,968.5 L1133.1,972.5 L1134.6,978.1 L1136.1,983.5 L1137.8,988.6 L1139.5,993.4 L1141.4,997.9 L1143.3,1002.3 L1145.4,1006.3 L1147.6,1010.2 L1150.0,1013.9 L1152.4,1017.3 L1155.0,1020.6 L1157.8,1023.6 L1160.8,1026.5 L1163.9,1029.3 L1167.1,1031.9 L1170.6,1034.3 L1174.3,1036.6 L1178.1,1038.8 L1182.2,1040.8 L1186.5,1042.8 L1191.1,1044.6 L1195.9,1046.3 L1200.9,1047.9 L1206.2,1049.4 L1211.8,1050.8 L1217.6,1052.2 L1221.7,1053.0 L1225.9,1053.9 L1230.3,1054.6 L1234.8,1055.4 L1239.4,1056.1 L1244.2,1056.8 L1249.1,1057.5 L1254.2,1058.1 L1259.4,1058.7 L1264.8,1059.3 L1270.4,1059.9 L1276.1,1060.4 L1282.0,1061.0 L1288.0,1061.5 L1294.2,1061.9 L1300.6,1062.4 L1307.2,1062.8 L1314.0,1063.3 L1320.9,1063.7 L1328.0,1064.1 L1335.3,1064.4 L1342.8,1064.8 L1350.4,1065.1 L1358.3,1065.5 L1362.3,1065.6 L1366.3,1065.8 L1370.4,1065.9 L1374.6,1066.1 L1378.8,1066.2 L1383.0,1066.4 L1387.3,1066.5 L1391.6,1066.7 L1396.0,1066.8 L1400.4,1066.9 L1404.9,1067.1 L1409.4,1067.2 L1414.0,1067.3 L1418.6,1067.4 L1423.3,1067.6 L1428.0,1067.7 L1432.7,1067.8 L1437.5,1067.9 L1442.4,1068.0 L1447.3,1068.1 L1452.3,1068.2 L1457.3,1068.3 L1462.3,1068.4 L1467.4,1068.5 L1472.5,1068.6 L1477.7,1068.7 L1483.0,1068.8 L1488.2,1068.9 L1493.6,1069.0 L1498.9,1069.1 L1504.4,1069.2 L1509.8,1069.3 L1515.3,1069.3 L1520.9,1069.4 L1526.5,1069.5 L1532.2,1069.6 L1537.9,1069.7 L1543.6,1069.7 L1549.4,1069.8 L1555.2,1069.9 L1561.1,1070.0 L1567.0,1070.0 L1573.0,1070.1 L1579.0,1070.2 L1585.0,1070.2 L1591.1,1070.3 L1597.2,1070.3 L1603.4,1070.4 L1609.6,1070.5 L1615.9,1070.5 L1622.2,1070.6 L1628.5,1070.6 L1634.9,1070.7 L1641.3,1070.7 L1647.7,1070.8 L1654.2,1070.8 L1660.8,1070.9 L1667.4,1070.9 L1674.0,1071.0 L1680.6,1071.0 L1687.3,1071.1 L1694.0,1071.1 L1700.8,1071.2 L1707.6,1071.2 L1714.4,1071.3 L1721.3,1071.3 L1728.2,1071.3 L1735.1,1071.4 L1742.1,1071.4 L1749.1,1071.5 L1756.2,1071.5 L1763.3,1071.5 L1770.4,1071.6 L1777.5,1071.6 L1784.7,1071.6 L1791.9,1071.7 L1799.1,1071.7 L1806.4,1071.7 L1813.7,1071.8 L1821.0,1071.8 L1828.4,1071.8 L1835.8,1071.9 L1843.2,1071.9 L1850.6,1071.9 L1858.1,1071.9 L1865.6,1072.0 L1873.2,1072.0 L1880.7,1072.0 L1888.3,1072.0 L1895.9,1072.1 L1903.6,1072.1 L1911.2,1072.1 L1918.9,1072.1 L1926.6,1072.2 L1934.4,1072.2 L1942.1,1072.2 L1949.9,1072.2 L1957.7,1072.2 L1965.6,1072.3 L1973.4,1072.3 L1981.3,1072.3 L1989.2,1072.3 L1997.1,1072.3 L2005.1,1072.4 L2013.0,1072.4 L2021.0,1072.4 L2029.0,1072.4 L2037.1,1072.4 L2045.1,1072.5 L2053.2,1072.5 L2061.3,1072.5 L2069.4,1072.5 L2077.5,1072.5 L2085.6,1072.5 L2093.8,1072.5 L2102.0,1072.6 L2110.2,1072.6 L2118.4,1072.6 L2126.6,1072.6 L2134.9,1072.6 L2143.1,1072.6 L2151.4,1072.6 L2159.7,1072.7 L2168.0,1072.7 L2176.3,1072.7 L2184.7,1072.7 L2193.0,1072.7 L2201.4,1072.7 L2209.8,1072.7 L2218.2,1072.7 L2226.6,1072.7 L2235.0,1072.8 L2243.4,1072.8 L2251.9,1072.8 L2260.4,1072.8 L2268.8,1072.8 L2277.3,1072.8 L2285.8,1072.8 L2294.3,1072.8 L2302.9,1072.8 L2311.4,1072.8" fill="none" stroke="#f00" stroke-width="5" stroke-linecap="round" stroke-linejoin="round" stroke-dasharray="18 19"/>
<path d="M1333.7,60.5 L1333.8,69.4 L1333.8,78.4 L1333.8,87.2 L1333.8,96.1 L1333.8,104.9 L1333.9,113.6 L1333.9,122.3 L1333.9,131.0 L1333.9,139.6 L1333.9,148.2 L1334.0,156.8 L1334.0,165.3 L1334.0,173.8 L1334.0,182.2 L1334.1,190.6 L1334.1,198.9 L1334.1,207.2 L1334.1,215.4 L1334.1,223.6 L1334.2,231.8 L1334.2,239.9 L1334.2,248.0 L1334.3,256.0 L1334.3,263.9 L1334.3,271.9 L1334.3,279.7 L1334.4,287.5 L1334.4,295.3 L1334.4,303.0 L1334.5,310.7 L1334.5,318.3 L1334.5,325.9 L1334.6,333.4 L1334.6,340.9 L1334.6,348.3 L1334.7,355.7 L1334.7,363.0 L1334.7,370.2 L1334.8,377.4 L1334.8,384.6 L1334.9,391.7 L1334.9,398.7 L1334.9,405.7 L1335.0,412.6 L1335.0,419.5 L1335.1,426.4 L1335.1,433.1 L1335.2,439.8 L1335.2,446.5 L1335.3,453.1 L1335.3,459.6 L1335.4,466.1 L1335.4,472.5 L1335.5,478.9 L1335.5,485.2 L1335.6,491.5 L1335.6,497.7 L1335.7,503.8 L1335.7,509.9 L1335.8,516.0 L1335.8,521.9 L1335.9,527.8 L1336.0,533.7 L1336.0,539.5 L1336.1,545.2 L1336.2,550.9 L1336.2,556.5 L1336.3,562.1 L1336.4,567.6 L1336.4,573.1 L1336.5,578.4 L1336.6,583.8 L1336.7,589.0 L1336.8,594.3 L1336.8,599.4 L1336.9,604.5 L1337.0,609.6 L1337.1,614.6 L1337.2,619.5 L1337.3,624.4 L1337.3,629.2 L1337.4,633.9 L1337.5,638.6 L1337.6,643.3 L1337.7,647.9 L1337.8,652.4 L1337.9,656.9 L1338.0,661.3 L1338.1,665.6 L1338.2,670.0 L1338.4,674.2 L1338.5,678.4 L1338.6,682.6 L1338.7,686.6 L1338.8,690.7 L1339.1,698.6 L1339.3,706.3 L1339.6,713.8 L1339.9,721.1 L1340.2,728.2 L1340.5,735.1 L1340.8,741.8 L1341.1,748.3 L1341.5,754.6 L1341.8,760.7 L1342.2,766.6 L1342.6,772.4 L1343.0,778.0 L1343.4,783.4 L1343.9,788.6 L1344.3,793.7 L1344.8,798.6 L1345.3,803.4 L1345.8,808.0 L1346.3,812.5 L1346.9,816.8 L1347.5,820.9 L1348.1,825.0 L1349.0,830.8 L1350.1,836.3 L1351.1,841.5 L1352.3,846.4 L1353.5,851.1 L1354.8,855.6 L1356.1,859.8 L1357.6,863.8 L1359.1,867.6 L1361.3,872.3 L1363.7,876.7 L1366.3,880.7 L1369.0,884.5 L1372.0,888.0 L1375.2,891.2 L1378.7,894.2 L1382.4,897.0 L1386.5,899.6 L1390.8,901.9 L1395.5,904.1 L1399.2,905.6 L1403.1,907.1 L1407.3,908.4 L1411.6,909.7 L1416.2,910.9 L1421.0,912.1 L1426.1,913.1 L1431.5,914.1 L1437.1,915.1 L1443.0,916.0 L1447.1,916.6 L1451.3,917.1 L1455.7,917.6 L1460.2,918.1 L1464.8,918.6 L1469.6,919.1 L1474.6,919.5 L1479.7,919.9 L1484.9,920.3 L1490.3,920.7 L1495.8,921.1 L1501.5,921.5 L1507.4,921.8 L1513.5,922.2 L1519.7,922.5 L1526.0,922.8 L1532.6,923.1 L1539.3,923.4 L1546.2,923.6 L1553.3,923.9 L1560.5,924.1 L1568.0,924.4 L1575.6,924.6 L1583.4,924.8 L1591.4,925.0 L1595.4,925.2 L1599.5,925.3 L1603.7,925.4 L1607.9,925.4 L1612.1,925.5 L1616.4,925.6 L1620.7,925.7 L1625.1,925.8 L1629.6,925.9 L1634.0,926.0 L1638.6,926.1 L1643.1,926.2 L1647.7,926.2 L1652.4,926.3 L1657.1,926.4 L1661.9,926.5 L1666.7,926.5 L1671.5,926.6 L1676.4,926.7 L1681.4,926.8 L1686.3,926.8 L1691.4,926.9 L1696.5,927.0 L1701.6,927.0 L1706.8,927.1 L1712.0,927.1 L1717.2,927.2 L1722.5,927.3 L1727.9,927.3 L1733.3,927.4 L1738.7,927.4 L1744.2,927.5 L1749.7,927.5 L1755.3,927.6 L1760.9,927.6 L1766.6,927.7 L1772.3,927.7 L1778.0,927.8 L1783.8,927.8 L1789.6,927.9 L1795.5,927.9 L1801.4,928.0 L1807.4,928.0 L1813.4,928.1 L1819.4,928.1 L1825.5,928.1 L1831.6,928.2 L1837.8,928.2 L1844.0,928.3 L1850.2,928.3 L1856.5,928.3 L1862.8,928.4 L1869.2,928.4 L1875.6,928.4 L1882.0,928.5 L1888.5,928.5 L1895.0,928.5 L1901.6,928.6 L1908.1,928.6 L1914.8,928.6 L1921.4,928.7 L1928.1,928.7 L1934.8,928.7 L1941.6,928.7 L1948.4,928.8 L1955.2,928.8 L1962.1,928.8 L1969.0,928.9 L1975.9,928.9 L1982.9,928.9 L1989.9,928.9 L1996.9,929.0 L2003.9,929.0 L2011.0,929.0 L2018.2,929.0 L2025.3,929.0 L2032.5,929.1 L2039.7,929.1 L2046.9,929.1 L2054.2,929.1 L2061.5,929.1 L2068.8,929.2 L2076.2,929.2 L2083.6,929.2 L2091.0,929.2 L2098.4,929.2 L2105.9,929.3 L2113.3,929.3 L2120.9,929.3 L2128.4,929.3 L2136.0,929.3 L2143.5,929.3 L2151.2,929.4 L2158.8,929.4 L2166.4,929.4 L2174.1,929.4 L2181.8,929.4 L2189.6,929.4 L2197.3,929.4 L2205.1,929.5 L2212.9,929.5 L2220.7,929.5 L2228.5,929.5 L2236.4,929.5 L2244.3,929.5 L2252.2,929.5 L2260.1,929.5 L2268.0,929.6" fill="none" stroke="#00f" stroke-width="5" stroke-linecap="round" stroke-linejoin="round" stroke-dasharray="18 19"/>
</g>
<line x1="276.5" y1="33" x2="276.5" y2="1679" stroke="#000" stroke-width="7"/>
<line x1="257" y1="1648.5" x2="2388" y2="1648.5" stroke="#000" stroke-width="7"/>
<line x1="1273.8" y1="1648" x2="1273.8" y2="1679" stroke="#000" stroke-width="6.5"/>
<line x1="2271.0" y1="1648" x2="2271.0" y2="1679" stroke="#000" stroke-width="6.5"/>
<line x1="576.7" y1="1648" x2="576.7" y2="1663" stroke="#000" stroke-width="6.5"/>
<line x1="752.3" y1="1648" x2="752.3" y2="1663" stroke="#000" stroke-width="6.5"/>
<line x1="876.9" y1="1648" x2="876.9" y2="1663" stroke="#000" stroke-width="6.5"/>
<line x1="973.5" y1="1648" x2="973.5" y2="1663" stroke="#000" stroke-width="6.5"/>
<line x1="1052.5" y1="1648" x2="1052.5" y2="1663" stroke="#000" stroke-width="6.5"/>
<line x1="1119.3" y1="1648" x2="1119.3" y2="1663" stroke="#000" stroke-width="6.5"/>
<line x1="1177.1" y1="1648" x2="1177.1" y2="1663" stroke="#000" stroke-width="6.5"/>
<line x1="1228.1" y1="1648" x2="1228.1" y2="1663" stroke="#000" stroke-width="6.5"/>
<line x1="1574.0" y1="1648" x2="1574.0" y2="1663" stroke="#000" stroke-width="6.5"/>
<line x1="1749.6" y1="1648" x2="1749.6" y2="1663" stroke="#000" stroke-width="6.5"/>
<line x1="1874.2" y1="1648" x2="1874.2" y2="1663" stroke="#000" stroke-width="6.5"/>
<line x1="1970.8" y1="1648" x2="1970.8" y2="1663" stroke="#000" stroke-width="6.5"/>
<line x1="2049.8" y1="1648" x2="2049.8" y2="1663" stroke="#000" stroke-width="6.5"/>
<line x1="2116.5" y1="1648" x2="2116.5" y2="1663" stroke="#000" stroke-width="6.5"/>
<line x1="2174.4" y1="1648" x2="2174.4" y2="1663" stroke="#000" stroke-width="6.5"/>
<line x1="2225.4" y1="1648" x2="2225.4" y2="1663" stroke="#000" stroke-width="6.5"/>
<line x1="246" y1="403.4" x2="277" y2="403.4" stroke="#000" stroke-width="6.5"/>
<line x1="261" y1="1273.7" x2="277" y2="1273.7" stroke="#000" stroke-width="6.5"/>
<line x1="261" y1="1054.4" x2="277" y2="1054.4" stroke="#000" stroke-width="6.5"/>
<line x1="261" y1="898.9" x2="277" y2="898.9" stroke="#000" stroke-width="6.5"/>
<line x1="261" y1="778.2" x2="277" y2="778.2" stroke="#000" stroke-width="6.5"/>
<line x1="261" y1="679.6" x2="277" y2="679.6" stroke="#000" stroke-width="6.5"/>
<line x1="261" y1="596.3" x2="277" y2="596.3" stroke="#000" stroke-width="6.5"/>
<line x1="261" y1="524.1" x2="277" y2="524.1" stroke="#000" stroke-width="6.5"/>
<line x1="261" y1="460.4" x2="277" y2="460.4" stroke="#000" stroke-width="6.5"/>

<text x="232.8" y="1788" font-size="85.5" font-family="Liberation Serif, 'Times New Roman', serif">1000</text>
<text x="1146" y="1788.5" font-size="85.5" font-family="Liberation Serif, 'Times New Roman', serif">10,000</text>
<text x="2168" y="1788.3" font-size="85.5" font-family="Liberation Serif, 'Times New Roman', serif">100,000</text>
<text transform="translate(214,1705.8) rotate(-90)" font-size="85" font-family="Liberation Serif, 'Times New Roman', serif">1×10<tspan font-size="58" dy="-39">7</tspan></text>
<text transform="translate(214,491) rotate(-90)" font-size="85" font-family="Liberation Serif, 'Times New Roman', serif">1×10<tspan font-size="58" dy="-39">8</tspan></text>
<text x="1264" y="1913" font-size="85" font-family="Liberation Serif, 'Times New Roman', serif"><tspan font-style="italic">I</tspan>/ k<tspan dx="2.5">P</tspan><tspan dx="-1">a</tspan><tspan dx="2.7">·</tspan><tspan dx="-5.2">m</tspan><tspan dx="7.3">s</tspan></text>
<text transform="translate(92,931) rotate(-90)" font-size="85" font-family="Liberation Serif, 'Times New Roman', serif"><tspan font-style="italic">P</tspan>/ Pa</text>

<g id="legend">
<rect x="1699.5" y="47.5" width="565" height="728.5" fill="#fff" stroke="#000" stroke-width="3"/>
<text x="1707" y="122.4" font-size="74" font-family="Liberation Serif, 'Times New Roman', serif">20 Mpa</text>
<text x="1708" y="481.8" font-size="74" font-family="Liberation Serif, 'Times New Roman', serif">0 MPa</text>
<rect x="1773.5" y="170.4" width="34" height="34" rx="1.5" fill="#747474"/>
<line x1="1871.5" y1="187.4" x2="2033.5" y2="187.4" stroke="#000" stroke-width="4.85" stroke-linecap="round"/>
<text x="2070" y="212.2" font-size="74" font-family="Liberation Serif, 'Times New Roman', serif">D=0.2</text>
<polygon points="1790.0,250.2 1813.2,291.7 1766.8,291.7" fill="#ff3f3f"/>
<line x1="1871.5" y1="276.9" x2="2033.5" y2="276.9" stroke="#f00" stroke-width="4.85" stroke-linecap="round"/>
<text x="2070" y="301.8" font-size="74" font-family="Liberation Serif, 'Times New Roman', serif">D=0.5</text>
<polygon points="1790.0,394.7 1813.2,353.2 1766.8,353.2" fill="#0071e5"/>
<line x1="1871.5" y1="367" x2="2033.5" y2="367" stroke="#00f" stroke-width="4.85" stroke-linecap="round"/>
<text x="2070" y="390.6" font-size="74" font-family="Liberation Serif, 'Times New Roman', serif">D=0.8</text>
<rect x="1775.0" y="531.9" width="30.3" height="30.3" fill="#fff" stroke="#747474" stroke-width="3.2"/><circle cx="1790.2" cy="547.0" r="1.6" fill="#747474"/>
<line x1="1871" y1="547" x2="2034" y2="547" stroke="#000" stroke-width="4.85" stroke-linecap="round" stroke-dasharray="16.6 21"/>
<text x="2070" y="570.6" font-size="74" font-family="Liberation Serif, 'Times New Roman', serif">D=0.2</text>
<polygon points="1790.0,613.1 1809.4,648.4 1770.6,648.4" fill="#fff" stroke="#ff3f3f" stroke-width="3.5" stroke-linejoin="miter"/><circle cx="1790.0" cy="636.6" r="1.6" fill="#ff3f3f"/>
<line x1="1871" y1="636.6" x2="2034" y2="636.6" stroke="#f00" stroke-width="4.85" stroke-linecap="round" stroke-dasharray="16.6 21"/>
<text x="2070" y="660.7" font-size="74" font-family="Liberation Serif, 'Times New Roman', serif">D=0.5</text>
<polygon points="1790.0,750.0 1809.4,714.8 1770.6,714.8" fill="#fff" stroke="#0071e5" stroke-width="3.5" stroke-linejoin="miter"/><circle cx="1790.0" cy="726.5" r="1.6" fill="#0071e5"/>
<line x1="1871" y1="726.5" x2="2034" y2="726.5" stroke="#00f" stroke-width="4.85" stroke-linecap="round" stroke-dasharray="16.6 21"/>
<text x="2070" y="750.9" font-size="74" font-family="Liberation Serif, 'Times New Roman', serif">D=0.8</text>
</g>
</svg>
</body></html>
